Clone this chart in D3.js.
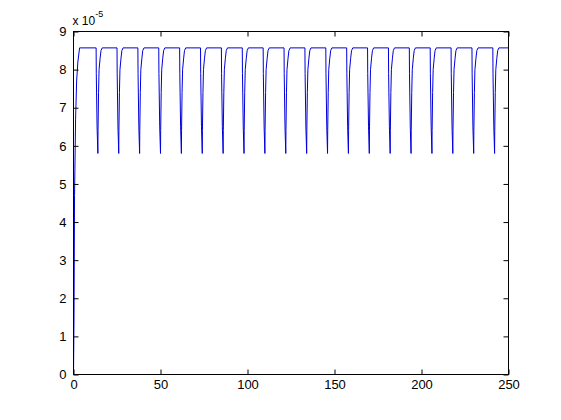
<!DOCTYPE html>
<html>
<head>
<meta charset="utf-8">
<script src="https://cdn.jsdelivr.net/npm/d3@7"></script>
<style>
  html, body { margin: 0; padding: 0; background: #ffffff; }
  svg { display: block; }
  text { font-family: "Liberation Sans", Arial, Helvetica, sans-serif; fill: #000; }
</style>
</head>
<body>
<svg id="chart" width="561" height="420"></svg>
<script>
// ---- data (values in units of 1e-5) ----
const yExponent = -5;
const xTicks = [0, 50, 100, 150, 200, 250];
const yTicks = [0, 1, 2, 3, 4, 5, 6, 7, 8, 9];

const times = [
  0, 0.3, 0.6, 1.2, 1.8, 2.5, 3.5,
  13, 13.1, 13.55, 14, 14.1, 14.4, 14.7, 15.3, 15.8, 16.5,
  25, 25.1, 25.55, 26, 26.1, 26.4, 26.7, 27.3, 27.8, 28.5,
  37, 37.1, 37.55, 38, 38.1, 38.4, 38.7, 39.3, 39.8, 40.5,
  49, 49.1, 49.55, 50, 50.1, 50.4, 50.7, 51.3, 51.8, 52.5,
  61, 61.1, 61.55, 62, 62.1, 62.4, 62.7, 63.3, 63.8, 64.5,
  73, 73.1, 73.55, 74, 74.1, 74.4, 74.7, 75.3, 75.8, 76.5,
  85, 85.1, 85.55, 86, 86.1, 86.4, 86.7, 87.3, 87.8, 88.5,
  97, 97.1, 97.55, 98, 98.1, 98.4, 98.7, 99.3, 99.8, 100.5,
  109, 109.1, 109.55, 110, 110.1, 110.4, 110.7, 111.3, 111.8, 112.5,
  121, 121.1, 121.55, 122, 122.1, 122.4, 122.7, 123.3, 123.8, 124.5,
  133, 133.1, 133.55, 134, 134.1, 134.4, 134.7, 135.3, 135.8, 136.5,
  145, 145.1, 145.55, 146, 146.1, 146.4, 146.7, 147.3, 147.8, 148.5,
  157, 157.1, 157.55, 158, 158.1, 158.4, 158.7, 159.3, 159.8, 160.5,
  169, 169.1, 169.55, 170, 170.1, 170.4, 170.7, 171.3, 171.8, 172.5,
  181, 181.1, 181.55, 182, 182.1, 182.4, 182.7, 183.3, 183.8, 184.5,
  193, 193.1, 193.55, 194, 194.1, 194.4, 194.7, 195.3, 195.8, 196.5,
  205, 205.1, 205.55, 206, 206.1, 206.4, 206.7, 207.3, 207.8, 208.5,
  217, 217.1, 217.55, 218, 218.1, 218.4, 218.7, 219.3, 219.8, 220.5,
  229, 229.1, 229.55, 230, 230.1, 230.4, 230.7, 231.3, 231.8, 232.5,
  241, 241.1, 241.55, 242, 242.1, 242.4, 242.7, 243.3, 243.8, 244.5,
  250
];

const values = [
  0, 1.5, 4.7, 6.7, 7.7, 8.2, 8.57,
  8.57, 7.9, 6.5, 5.8, 6.4, 7.4, 8.0, 8.3, 8.5, 8.57,
  8.57, 7.9, 6.5, 5.8, 6.4, 7.4, 8.0, 8.3, 8.5, 8.57,
  8.57, 7.9, 6.5, 5.8, 6.4, 7.4, 8.0, 8.3, 8.5, 8.57,
  8.57, 7.9, 6.5, 5.8, 6.4, 7.4, 8.0, 8.3, 8.5, 8.57,
  8.57, 7.9, 6.5, 5.8, 6.4, 7.4, 8.0, 8.3, 8.5, 8.57,
  8.57, 7.9, 6.5, 5.8, 6.4, 7.4, 8.0, 8.3, 8.5, 8.57,
  8.57, 7.9, 6.5, 5.8, 6.4, 7.4, 8.0, 8.3, 8.5, 8.57,
  8.57, 7.9, 6.5, 5.8, 6.4, 7.4, 8.0, 8.3, 8.5, 8.57,
  8.57, 7.9, 6.5, 5.8, 6.4, 7.4, 8.0, 8.3, 8.5, 8.57,
  8.57, 7.9, 6.5, 5.8, 6.4, 7.4, 8.0, 8.3, 8.5, 8.57,
  8.57, 7.9, 6.5, 5.8, 6.4, 7.4, 8.0, 8.3, 8.5, 8.57,
  8.57, 7.9, 6.5, 5.8, 6.4, 7.4, 8.0, 8.3, 8.5, 8.57,
  8.57, 7.9, 6.5, 5.8, 6.4, 7.4, 8.0, 8.3, 8.5, 8.57,
  8.57, 7.9, 6.5, 5.8, 6.4, 7.4, 8.0, 8.3, 8.5, 8.57,
  8.57, 7.9, 6.5, 5.8, 6.4, 7.4, 8.0, 8.3, 8.5, 8.57,
  8.57, 7.9, 6.5, 5.8, 6.4, 7.4, 8.0, 8.3, 8.5, 8.57,
  8.57, 7.9, 6.5, 5.8, 6.4, 7.4, 8.0, 8.3, 8.5, 8.57,
  8.57, 7.9, 6.5, 5.8, 6.4, 7.4, 8.0, 8.3, 8.5, 8.57,
  8.57, 7.9, 6.5, 5.8, 6.4, 7.4, 8.0, 8.3, 8.5, 8.57,
  8.57, 7.9, 6.5, 5.8, 6.4, 7.4, 8.0, 8.3, 8.5, 8.57,
  8.57
];

// ---- layout ----
const W = 561, H = 420;
const plot = { left: 73.5, right: 508.5, top: 31.5, bottom: 374.5 };
const tickLen = 5;

const svg = d3.select("#chart");
svg.append("rect").attr("width", W).attr("height", H).attr("fill", "#ffffff");

const x = d3.scaleLinear().domain([0, 250]).range([plot.left, plot.right]);
const y = d3.scaleLinear().domain([0, 9]).range([plot.bottom, plot.top]);

const data = times.map((t, i) => ({ t, v: values[i] }));

// line
svg.append("path")
  .datum(data)
  .attr("fill", "none")
  .attr("stroke", "#0000dc")
  .attr("stroke-width", 1)
  .attr("stroke-linejoin", "miter")
  .attr("d", d3.line().x(d => x(d.t)).y(d => y(d.v)));

// axes (MATLAB style, inward ticks, box)
const fontSize = "13px";
const bottomAxis = d3.axisBottom(x).tickValues(xTicks).tickSize(-tickLen).tickPadding(5).tickFormat(d3.format("d"));
const topAxis = d3.axisTop(x).tickValues(xTicks).tickSize(-tickLen).tickFormat("");
const leftAxis = d3.axisLeft(y).tickValues(yTicks).tickSize(-tickLen).tickPadding(7).tickFormat(d3.format("d"));
const rightAxis = d3.axisRight(y).tickValues(yTicks).tickSize(-tickLen).tickFormat("");

function style(g) {
  g.select(".domain").remove();
  g.selectAll(".tick line").attr("stroke", "#000").attr("stroke-width", 1);
  g.selectAll(".tick text").attr("font-size", fontSize).attr("fill", "#000")
    .attr("font-family", "'Liberation Sans', Arial, Helvetica, sans-serif");
}

svg.append("g").attr("transform", `translate(0,${plot.bottom})`).call(bottomAxis).call(style);
svg.append("g").attr("transform", `translate(0,${plot.top})`).call(topAxis).call(style);
svg.append("g").attr("transform", `translate(${plot.left},0)`).call(leftAxis).call(style);
svg.append("g").attr("transform", `translate(${plot.right},0)`).call(rightAxis).call(style);

// box
svg.append("rect")
  .attr("x", plot.left).attr("y", plot.top)
  .attr("width", plot.right - plot.left).attr("height", plot.bottom - plot.top)
  .attr("fill", "none").attr("stroke", "#000").attr("stroke-width", 1);

// exponent label
const expText = svg.append("text")
  .attr("x", plot.left - 1).attr("y", 25)
  .attr("font-size", "12px");
expText.append("tspan").text("x 10");
expText.append("tspan").attr("font-size", "9px").attr("dy", -8).text(String(yExponent));
</script>
</body>
</html>
